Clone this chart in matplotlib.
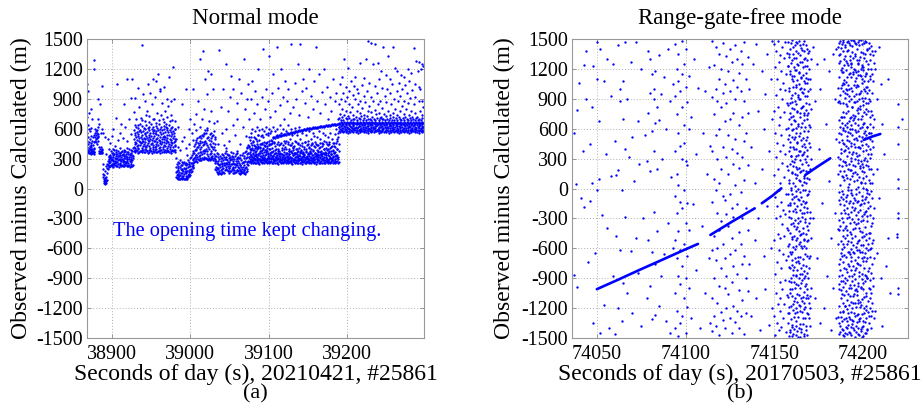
import matplotlib
matplotlib.use("Agg")
import matplotlib.pyplot as plt

# ---------------- Panel (a): Normal mode, O-C values read per second ----------------
normal_seg1 = [
    (38869, [360, 420, 480, 560, 720, 1050]), (38870, [370, 390, 450, 520, 640, 980]),
    (38871, [355, 380, 410, 470, 600, 760]), (38872, [360, 400, 430, 500, 580]),
    (38873, [350, 365, 440, 530, 800]), (38874, [360, 390, 420, 460, 610]),
    (38875, [355, 375, 400, 480, 700]), (38876, [360, 380, 440, 520]),
    (38877, [350, 370, 410, 1200, 1290]), (38878, [365, 400, 470, 540]),
    (38879, [480, 520, 560, 600]), (38880, [470, 500, 540, 580]),
    (38881, [450, 510, 560, 590]), (38882, [520, 550, 620, 700]),
    (38883, [480, 530, 900]), (38884, [360, 380, 420, 650]),
    (38885, [355, 370, 400, 850]), (38886, [360, 380, 420, 560]),
    (38887, [365, 400, 1030]), (38888, [360, 390, 600]),
]
normal_seg2 = [
    (38889, [250, 200, 150, 120, 560]), (38890, [100, 80, 60, 140]),
    (38891, [60, 50, 90, 110, 520]), (38892, [70, 55, 100, 180]),
    (38893, [60, 80, 120, 230, 350]), (38894, [90, 160, 210, 250]),
    (38895, [200, 240, 280, 500]), (38896, [220, 260, 300, 330]),
    (38897, [230, 280, 320, 400]),
]
normal_seg3 = [
    (38898, [222, 263, 304, 341, 452]), (38899, [234, 281, 318, 372]),
    (38900, [227, 249, 296, 356, 523]), (38901, [241, 272, 333, 394]),
    (38902, [219, 288, 312, 361, 598]), (38903, [232, 258, 344, 383]),
    (38904, [251, 279, 302, 424]), (38905, [221, 268, 331, 367, 704]),
    (38906, [236, 301, 348, 389]), (38907, [226, 262, 309, 343, 1050]),
    (38908, [243, 284, 329, 378, 483]), (38909, [220, 291, 322, 358]),
    (38910, [231, 257, 298, 352, 561]), (38911, [248, 283, 337, 406]),
    (38912, [223, 271, 314, 369, 648]), (38913, [237, 297, 332, 381]),
    (38914, [225, 264, 289, 347, 503]), (38915, [242, 276, 324, 391, 846]),
    (38916, [221, 303, 339, 364]), (38917, [233, 269, 311, 377, 617]),
    (38918, [252, 261, 327, 349]), (38919, [222, 292, 318, 402, 478]),
    (38920, [235, 279, 301, 371, 1100]), (38921, [228, 259, 342, 362]),
    (38922, [240, 298, 313, 393, 702]), (38923, [219, 273, 334, 351]),
    (38924, [230, 282, 319, 384, 547]), (38925, [249, 262, 299, 357, 903]),
    (38926, [224, 287, 338, 374, 1100]), (38927, [236, 302, 328, 410]),
]
normal_seg4 = [
    (38928, [372, 418, 497, 588, 763]), (38929, [391, 446, 533, 641]),
    (38930, [366, 402, 471, 552, 905]), (38931, [384, 457, 512, 618, 694]),
    (38932, [377, 428, 489, 566]), (38933, [359, 441, 526, 603, 1004]),
    (38934, [393, 411, 548, 637]), (38935, [368, 473, 502, 579, 822]),
    (38936, [381, 436, 468, 591, 652]), (38937, [374, 452, 519, 563, 711]),
    (38938, [389, 407, 494, 626, 1440]), (38939, [362, 463, 538, 684]),
    (38940, [386, 422, 481, 574, 948]), (38941, [371, 447, 509, 612]),
    (38942, [395, 431, 556, 598, 677]), (38943, [365, 468, 492, 547, 879]),
    (38944, [382, 414, 527, 633, 735]), (38945, [376, 439, 503, 569, 781]),
    (38946, [358, 455, 484, 606, 1052]), (38947, [390, 426, 541, 587, 668]),
    (38948, [369, 478, 515, 622, 724]), (38949, [387, 408, 496, 561, 962]),
    (38950, [373, 444, 531, 649]), (38951, [361, 461, 487, 594, 843]),
    (38952, [394, 419, 552, 577, 1103]), (38953, [379, 437, 506, 615, 701]),
    (38954, [366, 472, 523, 586, 697]), (38955, [385, 412, 479, 559, 917]),
    (38956, [370, 450, 544, 631, 1082]), (38957, [392, 425, 498, 573, 656]),
    (38958, [363, 466, 511, 608, 759]), (38959, [380, 433, 535, 582, 1148]),
    (38960, [375, 404, 486, 644, 688]), (38961, [389, 458, 520, 597, 983]),
    (38962, [360, 421, 476, 565, 1001]), (38963, [383, 448, 549, 619, 733]),
    (38964, [371, 470, 492, 589, 861]), (38965, [396, 415, 513, 557, 702]),
    (38966, [367, 439, 528, 627, 1019]), (38967, [378, 462, 501, 594, 671]),
    (38968, [386, 427, 517, 571, 778]), (38969, [364, 453, 483, 613, 649]),
    (38970, [391, 409, 540, 602, 899]), (38971, [373, 476, 507, 584, 715]),
    (38972, [380, 431, 470, 562, 832]), (38973, [368, 445, 532, 638, 1121]),
    (38974, [393, 418, 495, 591, 680]), (38975, [376, 464, 524, 606, 742]),
    (38976, [361, 437, 488, 568, 877]), (38977, [388, 452, 546, 617, 690]),
    (38978, [374, 413, 508, 579, 1219]), (38979, [382, 467, 529, 560, 901]),
    (38980, [369, 424, 499, 601, 679]), (38981, [390, 441, 478, 593]),
]
normal_seg5 = [
    (38982, [118, 163, 212, 304, 497]), (38983, [101, 131, 178, 243]),
    (38984, [94, 142, 203, 262, 418]), (38985, [112, 149, 187, 229, 622]),
    (38986, [99, 123, 168, 251]), (38987, [96, 139, 214, 283, 382]),
    (38988, [107, 158, 193, 238]), (38989, [102, 129, 182, 264, 476]),
    (38990, [93, 152, 198, 231, 850]), (38991, [109, 121, 171, 253]),
    (38992, [98, 141, 207, 268, 519]), (38993, [95, 162, 191, 242]),
    (38994, [104, 128, 179, 259, 403]), (38995, [100, 153, 202, 233, 1000]),
    (38996, [97, 119, 172, 248, 332]), (38997, [111, 138, 211, 281]),
    (38998, [121, 161, 188, 244, 601]), (38999, [131, 148, 222, 262, 447]),
    (39000, [139, 182, 228, 303, 702]), (39001, [162, 198, 252, 318]),
    (39002, [178, 223, 258, 334, 561]), (39003, [201, 238, 283, 352, 1000]),
    (39004, [212, 251, 298, 381, 482]),
]
normal_seg6 = [
    (39005, [261, 302, 358, 423, 652]), (39006, [272, 318, 382, 447]),
    (39007, [279, 332, 401, 468, 748]), (39008, [291, 339, 388, 483, 582]),
    (39009, [268, 312, 419, 502]), (39010, [299, 352, 412, 459, 878]),
    (39011, [282, 328, 441, 518]), (39012, [288, 362, 398, 481, 621]),
    (39013, [302, 341, 452, 528, 1300]), (39014, [281, 368, 421, 503]),
    (39015, [309, 349, 462, 538, 698]), (39016, [291, 379, 432, 522, 1380]),
    (39017, [298, 361, 471, 559]), (39018, [321, 388, 449, 542, 801]),
    (39019, [302, 372, 478, 583, 1100]), (39020, [309, 401, 461, 558]),
    (39021, [292, 378, 502, 591, 948]), (39022, [298, 351, 439, 602]),
    (39023, [281, 329, 421, 519, 1180]), (39024, [301, 311, 398, 482, 679]),
    (39025, [289, 342, 451, 548]), (39026, [318, 381, 429, 503, 1150]),
    (39027, [299, 359, 472, 561, 781]), (39028, [311, 331, 418, 522]),
    (39029, [288, 392, 458, 541, 1000]), (39030, [302, 348, 412, 578, 661]),
    (39031, [279, 322, 442, 498]),
]
normal_seg7 = [
    (39032, [198, 252, 301, 382, 521]), (39033, [181, 218, 272, 331]),
    (39034, [162, 208, 259, 352, 679]), (39035, [149, 191, 241, 318]),
    (39036, [158, 203, 279, 342, 451]), (39037, [151, 178, 232, 298, 1390]),
    (39038, [156, 212, 248, 331]), (39039, [148, 188, 271, 309, 822]),
    (39040, [161, 199, 242, 349, 558]), (39041, [152, 221, 258, 302]),
    (39042, [169, 208, 282, 338, 1000]), (39043, [158, 231, 251, 321, 432]),
    (39044, [182, 238, 291, 358]), (39045, [199, 252, 298, 381, 1250]),
    (39046, [211, 258, 312, 402, 601]), (39047, [188, 242, 288, 351]),
    (39048, [179, 221, 268, 332, 779]), (39049, [171, 209, 262, 308, 481]),
    (39050, [159, 202, 248, 341]), (39051, [172, 229, 281, 319, 921]),
    (39052, [178, 241, 299, 362, 1130]), (39053, [191, 249, 292, 328]),
    (39054, [181, 219, 271, 352, 641]), (39055, [158, 201, 258, 312, 1000]),
    (39056, [151, 189, 242, 298]), (39057, [162, 211, 249, 331, 539]),
    (39058, [168, 232, 279, 342]), (39059, [181, 238, 291, 359, 861]),
    (39060, [189, 252, 302, 378, 701]), (39061, [171, 218, 272, 321]),
    (39062, [159, 202, 251, 309, 1100]), (39063, [149, 181, 239, 332, 449]),
    (39064, [156, 188, 231, 302]), (39065, [151, 172, 219, 281, 962]),
    (39066, [161, 198, 252, 338]), (39067, [169, 212, 268, 352, 619]),
    (39068, [152, 189, 261, 329, 1300]), (39069, [158, 182, 238, 311]),
    (39070, [149, 201, 279, 362, 798]), (39071, [161, 219, 302, 378, 522]),
    (39072, [172, 241, 318, 402]), (39073, [198, 262, 342, 419, 901]),
    (39074, [231, 278, 358, 441, 1050]),
]
normal_seg8 = [
    (39075, [262, 318, 412, 520, 700]), (39076, [275, 350, 486, 400]),
    (39077, [255, 300, 398, 560, 900]), (39078, [268, 390, 521, 330]),
    (39079, [280, 320, 433, 600, 1080]), (39080, [258, 360, 472, 290]),
    (39081, [270, 310, 389, 520, 760]), (39082, [252, 340, 507, 410]),
    (39083, [285, 300, 426, 580, 980]), (39084, [260, 380, 493, 330]),
    (39085, [278, 320, 451, 620, 850]), (39086, [255, 350, 538, 300]),
    (39087, [266, 410, 417, 540, 1200]), (39088, [250, 300, 482, 590]),
    (39089, [272, 330, 402, 380, 700]), (39090, [261, 290, 529, 450]),
    (39091, [284, 360, 446, 600, 920]), (39092, [256, 320, 391, 540]),
    (39093, [268, 400, 515, 300, 1400]), (39094, [252, 310, 468, 580]),
    (39095, [276, 340, 423, 430, 800]), (39096, [263, 290, 547, 370]),
    (39097, [281, 390, 455, 620, 1000]), (39098, [257, 300, 409, 470]),
    (39099, [267, 350, 533, 560, 880]), (39100, [253, 320, 476, 400]),
    (39101, [274, 295, 438, 600, 1330]), (39102, [262, 340, 561, 450, 720]),
    (39103, [279, 310, 487, 580]), (39104, [256, 370, 452, 480, 960]),
    (39105, [265, 300, 516, 330]), (39106, [251, 330, 507, 620, 1150]),
    (39107, [271, 290, 520, 460]), (39108, [260, 360, 511, 580, 780]),
    (39109, [283, 320, 524, 400]), (39110, [254, 300, 516, 540, 1420]),
    (39111, [269, 340, 528, 600]), (39112, [250, 310, 520, 470, 1010]),
    (39113, [273, 380, 532, 350]), (39114, [261, 300, 525, 640, 840]),
    (39115, [282, 330, 536, 450]), (39116, [255, 290, 529, 560, 1200]),
    (39117, [266, 350, 541, 300]), (39118, [252, 320, 532, 600, 920]),
    (39119, [275, 300, 545, 480]), (39120, [263, 340, 536, 400, 700]),
    (39121, [280, 310, 549, 460, 1080]), (39122, [257, 360, 540, 580]),
    (39123, [268, 290, 552, 320, 880]), (39124, [251, 330, 545, 640]),
    (39125, [272, 300, 556, 470, 1000]), (39126, [262, 350, 549, 380]),
    (39127, [279, 320, 561, 500, 760]), (39128, [256, 290, 552, 440]),
    (39129, [265, 380, 565, 600, 1450]), (39130, [250, 310, 556, 540]),
    (39131, [274, 340, 569, 420, 820]), (39132, [263, 300, 560, 360]),
    (39133, [281, 360, 572, 610, 1060]), (39134, [255, 320, 565, 480]),
    (39135, [267, 290, 576, 400, 900]), (39136, [252, 350, 569, 540]),
    (39137, [276, 310, 581, 330, 1250]), (39138, [260, 380, 572, 460]),
    (39139, [283, 300, 585, 620, 740]), (39140, [257, 330, 577, 500, 1450]),
    (39141, [269, 290, 588, 380]), (39142, [250, 360, 579, 560, 980]),
    (39143, [273, 320, 591, 430]), (39144, [262, 300, 583, 350, 1100]),
    (39145, [280, 340, 595, 600]), (39146, [255, 290, 587, 470, 860]),
    (39147, [266, 370, 599, 400]), (39148, [252, 310, 590, 540, 1010]),
    (39149, [276, 330, 603, 320]), (39150, [263, 300, 595, 480, 720]),
    (39151, [281, 350, 606, 580]), (39152, [256, 290, 598, 420, 1200]),
    (39153, [268, 380, 609, 360]), (39154, [251, 320, 600, 500, 930]),
    (39155, [272, 300, 612, 450]), (39156, [262, 340, 603, 560, 800]),
    (39157, [279, 310, 614, 390]), (39158, [257, 290, 606, 530, 1080]),
    (39159, [265, 360, 617, 470]), (39160, [250, 330, 608, 330, 1420]),
    (39161, [274, 300, 619, 520]), (39162, [263, 350, 611, 440, 880]),
    (39163, [282, 320, 622, 380]), (39164, [255, 290, 613, 580, 1150]),
    (39165, [267, 370, 624, 420]), (39166, [252, 310, 616, 500, 760]),
    (39167, [276, 340, 627, 350]), (39168, [260, 300, 619, 460, 970]),
    (39169, [284, 360, 630, 560]), (39170, [257, 320, 621, 400, 1200]),
    (39171, [269, 290, 632, 480]), (39172, [251, 350, 624, 540, 850]),
    (39173, [273, 310, 635, 360]), (39174, [262, 300, 627, 450, 1020]),
    (39175, [280, 340, 637, 520]), (39176, [255, 290, 630, 400, 700]),
    (39177, [266, 380, 640, 470]), (39178, [252, 320, 632, 560, 920]),
    (39179, [276, 300, 642, 350]), (39180, [263, 350, 635, 420, 780]),
    (39181, [281, 310, 645, 500]), (39182, [256, 290, 637, 380, 1100]),
    (39183, [268, 360, 647, 460]), (39184, [251, 330, 640, 550, 880]),
    (39185, [272, 300, 649, 420]), (39186, [262, 340, 642, 600, 960]),
    (39187, [279, 400, 651, 500]), (39188, [257, 320, 644, 560, 700]),
    (39189, [265, 450, 652, 380, 620]),
]
normal_seg8_half = [
    (39075.5, [312, 428]), (39076.5, [296, 371]), (39077.5, [338, 452]), (39078.5, [289, 407]),
    (39079.5, [351, 463]), (39080.5, [303, 389]), (39081.5, [327, 441]), (39082.5, [292, 366]),
    (39083.5, [345, 418]), (39084.5, [309, 474]), (39085.5, [286, 397]), (39086.5, [334, 431]),
    (39087.5, [301, 359]), (39088.5, [356, 446]), (39089.5, [294, 412]), (39090.5, [322, 381]),
    (39091.5, [307, 458]), (39092.5, [341, 402]), (39093.5, [288, 369]), (39094.5, [318, 437]),
    (39095.5, [299, 391]), (39096.5, [347, 461]), (39097.5, [311, 378]), (39098.5, [285, 424]),
    (39099.5, [329, 353]), (39100.5, [304, 443]), (39101.5, [352, 396]), (39102.5, [291, 367]),
    (39103.5, [337, 449]), (39104.5, [315, 405]), (39105.5, [298, 372]), (39106.5, [343, 468]),
    (39107.5, [306, 388]), (39108.5, [287, 427]), (39109.5, [331, 359]), (39110.5, [309, 451]),
    (39111.5, [354, 399]), (39112.5, [293, 376]), (39113.5, [326, 433]), (39114.5, [302, 361]),
    (39115.5, [348, 456]), (39116.5, [289, 408]), (39117.5, [319, 384]), (39118.5, [336, 441]),
    (39119.5, [297, 367]), (39120.5, [313, 419]), (39121.5, [350, 472]), (39122.5, [286, 393]),
    (39123.5, [328, 356]), (39124.5, [305, 447]), (39125.5, [342, 401]), (39126.5, [294, 374]),
    (39127.5, [321, 438]), (39128.5, [308, 363]), (39129.5, [355, 452]), (39130.5, [290, 411]),
    (39131.5, [333, 386]), (39132.5, [300, 429]), (39133.5, [346, 358]), (39134.5, [317, 466]),
    (39135.5, [288, 398]), (39136.5, [324, 371]), (39137.5, [310, 444]), (39138.5, [339, 403]),
    (39139.5, [295, 365]), (39140.5, [353, 436]), (39141.5, [303, 389]), (39142.5, [287, 454]),
    (39143.5, [330, 362]), (39144.5, [314, 421]), (39145.5, [349, 395]), (39146.5, [292, 470]),
    (39147.5, [320, 378]), (39148.5, [306, 432]), (39149.5, [344, 357]), (39150.5, [299, 448]),
    (39151.5, [327, 406]), (39152.5, [311, 369]), (39153.5, [356, 439]), (39154.5, [289, 392]),
    (39155.5, [335, 461]), (39156.5, [302, 373]), (39157.5, [318, 427]), (39158.5, [347, 360]),
    (39159.5, [296, 414]), (39160.5, [323, 451]), (39161.5, [308, 385]), (39162.5, [340, 434]),
    (39163.5, [286, 367]), (39164.5, [332, 409]), (39165.5, [312, 457]), (39166.5, [351, 380]),
    (39167.5, [297, 426]), (39168.5, [325, 361]), (39169.5, [304, 443]), (39170.5, [343, 399]),
    (39171.5, [290, 371]), (39172.5, [316, 465]), (39173.5, [337, 410]), (39174.5, [301, 384]),
    (39175.5, [354, 437]), (39176.5, [293, 363]), (39177.5, [322, 448]), (39178.5, [309, 402]),
    (39179.5, [345, 376]), (39180.5, [288, 430]), (39181.5, [329, 458]), (39182.5, [314, 389]),
    (39183.5, [352, 423]), (39184.5, [298, 366]), (39185.5, [326, 452]), (39186.5, [307, 397]),
    (39187.5, [341, 475]), (39188.5, [295, 512]),
]
normal_seg9 = [
    (39190, [578, 621, 661, 703, 850]), (39191, [569, 598, 652, 748, 1050]),
    (39192, [591, 632, 668, 684, 900]), (39193, [574, 609, 657, 719, 1120]),
    (39194, [586, 642, 659, 802]), (39195, [563, 607, 648, 692, 960]),
    (39196, [581, 623, 664, 738, 1300]), (39197, [596, 613, 653, 881]),
    (39198, [568, 637, 661, 712, 1020]), (39199, [584, 601, 649, 777]),
    (39200, [576, 618, 667, 694, 920]), (39201, [558, 611, 654, 726, 1210]),
    (39202, [592, 641, 662, 848]), (39203, [579, 599, 651, 708, 980]),
    (39204, [571, 628, 663, 763]), (39205, [587, 616, 656, 688, 1080]),
    (39206, [573, 604, 658, 822]), (39207, [594, 626, 647, 701, 940]),
    (39208, [566, 633, 666, 742]), (39209, [582, 612, 654, 695, 1030]),
    (39210, [589, 602, 661, 897, 1120]), (39211, [568, 619, 651, 714]),
    (39212, [586, 643, 663, 781, 1000]), (39213, [574, 606, 656, 689]),
    (39214, [561, 614, 659, 852, 960]), (39215, [591, 631, 648, 706]),
    (39216, [579, 601, 667, 758, 1260]), (39217, [569, 624, 654, 693, 880]),
    (39218, [587, 611, 661, 723]), (39219, [576, 636, 649, 803, 1040]),
    (39220, [594, 621, 663, 687]), (39221, [564, 599, 657, 741, 930]),
    (39222, [581, 639, 659, 704, 1110]), (39223, [589, 617, 651, 872]),
    (39224, [571, 604, 666, 691, 1300]), (39225, [586, 629, 656, 724, 980]),
    (39226, [574, 612, 661, 782]), (39227, [559, 626, 648, 696, 1480]),
    (39228, [592, 601, 663, 829, 1060]), (39229, [578, 641, 654, 702]),
    (39230, [568, 619, 659, 763, 920]), (39231, [587, 606, 652, 687, 1460]),
    (39232, [576, 634, 666, 718]), (39233, [593, 614, 657, 882, 1250]),
    (39234, [563, 602, 661, 699]), (39235, [581, 631, 649, 791, 1030]),
    (39236, [588, 609, 663, 692, 1450]), (39237, [572, 624, 656, 743]),
    (39238, [584, 639, 658, 706, 960]), (39239, [577, 601, 651, 852, 1260]),
    (39240, [561, 621, 667, 688]), (39241, [589, 606, 654, 761, 1100]),
    (39242, [579, 633, 661, 703, 880]), (39243, [569, 616, 648, 721, 1180]),
    (39244, [586, 599, 663, 694]), (39245, [574, 631, 657, 812, 1010]),
    (39246, [594, 611, 659, 702, 1420]), (39247, [566, 638, 652, 751]),
    (39248, [581, 619, 666, 689, 930]), (39249, [591, 604, 654, 868, 1140]),
    (39250, [571, 636, 661, 723]), (39251, [584, 614, 649, 698, 1000]),
    (39252, [576, 602, 663, 779, 1330]), (39253, [559, 626, 656, 692]),
    (39254, [589, 641, 659, 739, 960]), (39255, [581, 609, 651, 704, 1100]),
    (39256, [569, 629, 664, 851]), (39257, [586, 606, 654, 688, 1050]),
    (39258, [574, 621, 661, 762, 1420]), (39259, [594, 634, 649, 719]),
    (39260, [566, 601, 663, 691, 900]), (39261, [579, 616, 656, 798, 1210]),
    (39262, [591, 639, 658, 703]), (39263, [571, 624, 652, 741, 980]),
    (39264, [584, 611, 667, 689, 1180]), (39265, [576, 599, 654, 879]),
    (39266, [561, 631, 661, 722, 1060]), (39267, [589, 619, 648, 698, 930]),
    (39268, [579, 604, 663, 781]), (39269, [569, 641, 656, 692, 1140]),
    (39270, [586, 614, 659, 832, 1000]), (39271, [574, 601, 651, 704]),
    (39272, [593, 636, 666, 749, 1120]), (39273, [564, 609, 654, 688, 880]),
    (39274, [581, 626, 661, 721, 1040]), (39275, [589, 602, 649, 801]),
    (39276, [571, 639, 663, 702, 960]), (39277, [584, 621, 656, 691, 1200]),
    (39278, [576, 606, 658, 861]), (39279, [559, 629, 652, 739, 1080]),
    (39280, [591, 616, 667, 703, 910]), (39281, [579, 599, 654, 689]),
    (39282, [569, 634, 661, 779, 1160]), (39283, [586, 611, 649, 722, 990]),
    (39284, [574, 624, 663, 698]), (39285, [594, 641, 656, 851, 1410]),
    (39286, [566, 601, 659, 692, 1050]), (39287, [581, 619, 651, 761, 920]),
    (39288, [589, 606, 666, 704, 1280]), (39289, [571, 636, 654, 718]),
    (39290, [584, 614, 661, 688, 1180]), (39291, [576, 602, 649, 879, 1020]),
    (39292, [561, 631, 663, 701, 1270]), (39293, [589, 639, 656, 778, 1000]),
    (39294, [579, 609, 658, 691, 1200]), (39295, [569, 626, 652, 742, 1250]),
    (39296, [586, 604, 667, 703, 880]), (39297, [574, 621, 654, 821, 1230]),
]
normal_segments = [normal_seg1, normal_seg2, normal_seg3, normal_seg4, normal_seg5,
                   normal_seg6, normal_seg7, normal_seg8, normal_seg8_half, normal_seg9]

# ---------------- Panel (b): Range-gate-free mode ----------------
rgf_background = [
    (74037, [560, -870]), (74038, [50]), (74039, [790, -990]), (74040, [1060]),
    (74041, [-100]), (74042, [380]), (74043, [1240, -190]), (74044, [1380, 900]),
    (74045, [-740]), (74046, [-130, 450]), (74047, [820, 60]), (74048, [-1350, 1230]),
    (74049, [-650]), (74050, [1470, 1100, -20]), (74051, [680, 100]), (74052, [-1450, 1400]),
    (74053, [-270]), (74054, [1080, -1170]), (74055, [350]), (74056, [1300, -400]),
    (74057, [-1400]), (74058, [930, 130]), (74059, [-880, 1250]), (74060, [480, -1460]),
    (74061, [140, -480]), (74062, [190, 1440, -1200]), (74063, [1000, 880, -620]),
    (74064, [-20, -1330]), (74065, [700, 1080, -950]), (74066, [400, -290, 1470]),
    (74067, [-1050, 900]), (74068, [320]), (74069, [-630, 1270]), (74070, [520, -1250]),
    (74071, [80]), (74072, [1470, -500]), (74073, [680, -850]), (74074, [250]),
    (74075, [1200, -1380]), (74076, [-300]), (74077, [540]), (74078, [-1100, 280]),
    (74086, [950, -880]), (74087, [300]), (74088, [-660, 1120]), (74089, [-1330, 600]),
    (74090, [-350, 1400]), (74091, [880, -1450]), (74092, [120]), (74093, [-600, 1050]),
    (74103, [-1300, 720]), (74104, [-160]), (74105, [1300]), (74106, [-820, 350]),
    (74107, [1010]), (74108, [-1400]), (74109, [-380]), (74110, [560]),
    (74111, [980, -1050]), (74112, [150]), (74113, [-700, 1220]), (74114, [-1350, 430]),
    (74136, [1000, -760]), (74137, [420, -1280]), (74138, [1250]), (74139, [-520, 60]),
    (74140, [1450, -1100]), (74141, [780, -300]), (74142, [-1420]), (74143, [1180, 200]),
    (74144, [-680, 600]), (74145, [950, -1010]), (74146, [-180, 1350]), (74147, [380, -1370]),
    (74148, [1100, -600]), (74149, [700, -1200, 1480]),
    (74172, [1420, -300]), (74173, [880, -1100]), (74174, [1250, -700]), (74175, [400]),
    (74176, [-1350, 1000]), (74177, [-150]), (74178, [-1200, 1300]), (74179, [650]),
    (74180, [-880]), (74181, [80, 1180]), (74182, [-500, -1420]), (74183, [1350, -1000]),
    (74184, [900, -250]), (74185, [1400, -1300, 500]),
    (74207, [1380, -1230, 1200]), (74208, [200, -650, 900]), (74209, [1420, -100]),
    (74210, [-900, 1050]), (74211, [650, -1380]), (74212, [350]), (74213, [-780]),
    (74214, [1100, -500]), (74215, [-1050]),
    (74219.5, [850, 620, 450, 100, 10, -250, -300, -1000, -1060]), (74219, [-460, -490]),
    (74222, [700]),
]
rgf_band_74080 = [
    (74079, [1380, 760, -520]), (74080, [1300, 960, 180, -980]),
    (74081, [1150, 580, -640, -1310]), (74082, [900, 1000, 380, -240]),
    (74083, [1180, 660, -1270, -760]), (74084, [820, 200, -430]),
    (74085, [1340, 690, -1180]),
]
rgf_band_74098 = [
    (74094, [1450, 930, 380, -80, -520, -1050, -1400]),
    (74095, [1200, 750, 150, -250, -700, -1230]),
    (74096, [1350, 1080, 560, 40, -430, -880, -1480]),
    (74097, [980, 430, -140, -620, -960, -1350]),
    (74098, [1480, 1150, 820, 300, -200, -780, -1280]),
    (74099, [1250, 640, 460, -20, -560, -1100]),
    (74100, [1400, 1020, 280, -350, -900, -1450]),
    (74101, [870, 240, -150, -680, -1190]),
    (74102, [1130, 600, -420, -1000]),
]
rgf_band_74125 = [
    (74115, [1480, 920, 380, -140, -620, -1100, -1430]),
    (74116, [1240, 750, 100, -480, -900, -1280]),
    (74117, [1420, 1000, 540, -20, -720, -1380]),
    (74118, [880, 300, -250, -600, -1150]),
    (74119, [1350, 1100, 600, 60, -420, -980, -1470]),
    (74120, [1200, 820, 200, -330, -800, -1240]),
    (74121, [1460, 960, 420, -80, -560, -1320]),
    (74122, [1050, 680, -120, -700, -1000, -1400]),
    (74123, [1330, 860, 320, -260, -880, -1200]),
    (74124, [1180, 540, 150, -380, -1060]),
    (74125, [1400, 980, 700, -60, -660, -1300]),
    (74126, [1270, 400, -200, -500, -940, -1450]),
    (74127, [1090, 760, 250, -290, -780, -1180]),
    (74128, [1440, 900, 500, 40, -620, -1340]),
    (74129, [1300, 1020, 360, -160, -860, -1230]),
    (74130, [1160, 640, 210, -440, -1020, -1400]),
    (74131, [1380, 980, -40, -560, -1280]),
    (74132, [1250, 720, 320, -300, -760, -1120]),
    (74133, [1470, 880, 480, 90, -680, -1460]),
    (74134, [1100, 560, -200, -900, -1250]),
    (74135, [1320, 760, 240, -420, -1030]),
]
rgf_band_74160 = [
    (74150, [1450, 780, 140, -520, -1280]), (74150.5, [1220, 560, -90, -860, -1470]),
    (74151, [1380, 940, 320, -300, -1050]), (74151.5, [1100, 460, -180, -740, -1350]),
    (74152, [1480, 820, 200, -460, -1160]), (74152.5, [1270, 640, -20, -620, -1420]),
    (74153, [1000, 380, -280, -940, -1230]), (74153.5, [1340, 720, 60, -500, -1100]),
    (74154, [1180, 540, -140, -800, -1390]), (74154.5, [1420, 900, 260, -360, -1010]),
    (74155, [1060, 440, -220, -660, -1300]), (74155.5, [1310, 770, 120, -480, -1160]),
    (74156, [1470, 990, 350, -260, -920]), (74156.5, [1150, 600, -60, -720, -1440]),
    (74157, [1360, 860, 230, -400, -1070]), (74157.5, [1230, 500, -170, -580, -1250]),
    (74158, [1470, 1230, 840, 610, 190, -60, -420, -680, -1090, -1350]),
    (74158.5, [1320, 980, 700, 380, 90, -290, -560, -930, -1190, -1480]),
    (74159, [1400, 1150, 760, 470, 250, -170, -450, -800, -1050, -1420]),
    (74159.5, [1260, 910, 650, 330, -20, -300, -660, -940, -1310]),
    (74160, [1490, 1100, 870, 520, 160, -110, -510, -720, -1080, -1390]),
    (74160.5, [1350, 1020, 730, 420, 60, -230, -590, -870, -1220, -1460]),
    (74161, [1220, 1130, 800, 500, 270, -150, -380, -790, -1130, -1290]),
    (74161.5, [1440, 960, 680, 300, 30, -320, -610, -1000, -1250]),
    (74162, [1380, 1190, 850, 560, 220, -80, -410, -740, -960, -1380]),
    (74162.5, [1310, 1040, 610, 400, 110, -240, -520, -880, -1200, -1470]),
    (74163, [1460, 1090, 770, 460, 140, -180, -500, -820, -1140, -1430]),
    (74163.5, [1240, 940, 630, 340, -10, -350, -690, -970, -1290]),
    (74164, [1480, 1170, 900, 530, 210, -120, -430, -750, -1070, -1400]),
    (74164.5, [1340, 1000, 720, 380, 80, -220, -540, -860, -1180, -1490]),
    (74165, [1410, 1120, 810, 490, 180, -160, -460, -800, -1100, -1440]),
    (74165.5, [1270, 970, 660, 340, 40, -290, -600, -920, -1240]),
    (74166, [1450, 1140, 830, 510, 190, -130, -450, -770, -1090, -1360]),
    (74166.5, [1300, 1000, 690, 370, 70, -250, -580, -900, -1210, -1480]),
    (74167, [1380, 1080, 760, 450, 130, -190, -510, -830, -1150]),
    (74167.5, [1230, 930, 620, 300, -20, -340, -660, -980, -1300]),
    (74168, [1440, 1110, 790, 490, 180, -140, -460, -780, -1100, -1420]),
    (74168.5, [1290, 1060, 740, 390, 110, -200, -530, -850]),
    (74169, [1360, 980, 580, 240, -60, -420, -900, -1260]),
    (74169.5, [1200, 850, 460, 100, -350, -700, -1150]),
    (74170, [1100, 620, 200, -240, -680, -1080, -1380]),
    (74170.5, [1300, 800, 300, -500, -1000]),
]
rgf_band_74160_extra = [
    (74158.25, [1350, 1010, 540, 60, -230, -790, -1250]),
    (74158.75, [1180, 860, 420, -150, -640, -1010, -1440]),
    (74159.25, [1460, 720, 330, 10, -360, -900, -1180]),
    (74159.75, [1290, 940, 590, 170, -490, -770, -1370]),
    (74160.25, [1130, 810, 280, -60, -640, -1010, -1480]),
    (74160.75, [1420, 1080, 600, 230, -350, -820, -1160]),
    (74161.25, [1310, 690, 400, -90, -480, -940, -1410]),
    (74161.75, [1190, 880, 520, 150, -210, -700, -1100]),
    (74162.25, [1470, 1020, 330, -30, -580, -870, -1330]),
    (74162.75, [1250, 780, 470, 200, -390, -1060, -1240]),
    (74163.25, [1360, 920, 650, -110, -300, -730, -1490]),
    (74163.75, [1160, 1050, 380, 90, -560, -900, -1170]),
    (74164.25, [1440, 760, 560, -40, -470, -1000, -1360]),
    (74164.75, [1270, 900, 290, 170, -330, -690, -1230]),
    (74165.25, [1110, 1010, 620, -90, -580, -950, -1410]),
    (74165.75, [1390, 820, 430, 250, -250, -860, -1130]),
    (74166.25, [1220, 960, 350, -20, -400, -710, -1300]),
    (74166.75, [1480, 740, 580, 110, -520, -1040, -1460]),
    (74167.25, [1310, 1060, 420, -150, -310, -880, -1190]),
    (74167.75, [1160, 860, 270, 60, -600, -960, -1380]),
    (74168.25, [1400, 700, 520, -70, -380, -1070, -1250]),
    (74168.75, [1230, 930, 330, -240, -680, -1010, -1470]),
    (74169.25, [1100, 760, 170, -520, -1100]),
    (74169.75, [1380, 640, -30, -800, -1300]),
    (74170.25, [1000, 420, -300, -1200]),
]
rgf_band_74195 = [
    (74186, [1420, 1010, 870, 320, 150, -410, -560, -1290]),
    (74186.5, [1260, 690, 470, -120, -880, -1010, -1460]),
    (74187, [1480, 1350, 860, 300, 40, -160, -710, -1240, -1380]),
    (74187.5, [1190, 1010, 550, 400, -250, -530, -930, -1100]),
    (74188, [1450, 1210, 720, 660, 130, -30, -610, -680, -1060, -1330]),
    (74188.5, [1380, 980, 770, 280, 120, -420, -560, -1150, -1470]),
    (74189, [1490, 1170, 1060, 590, 460, -60, -340, -930, -990, -1240, -1420]),
    (74189.5, [1300, 1050, 720, 450, 180, -170, -670, -800, -1310]),
    (74190, [1440, 1330, 960, 580, 390, 270, -250, -500, -900, -1180, -1450]),
    (74190.5, [1280, 1000, 850, 430, 240, -90, -380, -810, -1030, -1390]),
    (74191, [1470, 1120, 990, 660, 530, 110, -200, -420, -840, -1330, -1400]),
    (74191.5, [1390, 1240, 780, 570, 200, -20, -530, -640, -1060, -1250]),
    (74192, [1460, 1000, 930, 480, 370, 50, -290, -780, -880, -1170, -1440]),
    (74192.5, [1330, 1160, 710, 600, 100, -130, -440, -660, -1080, -1310]),
    (74193, [1490, 1250, 900, 720, 310, 190, -240, -610, -820, -1240, -1390]),
    (74193.5, [1260, 1120, 640, 460, 280, -50, -460, -690, -1000, -1470]),
    (74194, [1430, 980, 820, 540, 350, -70, -310, -500, -930, -1200, -1360]),
    (74194.5, [1310, 1170, 690, 370, 160, -150, -570, -780, -1150, -1330]),
    (74195, [1480, 1040, 870, 710, 500, 80, -220, -650, -860, -1060, -1420]),
    (74195.5, [1350, 1190, 730, 420, 230, -200, -400, -820, -1020, -1280]),
    (74196, [1450, 1110, 950, 570, 360, -60, -270, -590, -1010, -1190, -1440]),
    (74196.5, [1290, 1040, 880, 490, 90, -140, -550, -750, -1070, -1340]),
    (74197, [1470, 1260, 810, 640, 420, 20, -310, -530, -950, -1150, -1400]),
    (74197.5, [1180, 1030, 760, 580, 290, -130, -350, -760, -980, -1260]),
    (74198, [1440, 1290, 900, 530, 340, 120, -400, -620, -840, -1310, -1470]),
    (74198.5, [1320, 960, 800, 410, 210, -220, -430, -640, -1140, -1300]),
    (74199, [1490, 1130, 980, 700, 280, 60, -160, -570, -990, -1170, -1430]),
    (74199.5, [1240, 1100, 620, 440, 250, -80, -490, -700, -910, -1390]),
    (74200, [1360, 1220, 840, 650, 220, 10, -320, -730, -950, -1330, -1480]),
    (74200.5, [1460, 1080, 770, 560, 170, -260, -480, -690, -1090, -1250]),
    (74201, [1350, 980, 910, 510, 310, -110, -240, -650, -870, -1340]),
    (74201.5, [1470, 1020, 800, 390, 0, -230, -460, -880, -1180, -1450]),
    (74202, [1280, 1150, 750, 540, 130, -90, -520, -730, -1050, -1220]),
    (74202.5, [1400, 960, 620, 280, -50, -280, -700, -900, -1410]),
    (74203, [1200, 1080, 860, 430, 230, -200, -620, -830, -1240]),
    (74203.5, [1410, 900, 560, 200, -60, -500, -800, -1280]),
    (74204, [1350, 1100, 650, 400, -180, -450, -920, -1100]),
    (74204.5, [1200, 780, 350, -30, -600, -1050, -1400]),
    (74205, [1380, 960, 480, 60, -350, -760, -1150]),
    (74205.5, [1080, 620, 150, -520, -980]),
    (74206, [1260, 700, -200, -700, -1300]),
]
rgf_band_74195_extra = [
    (74186.25, [1340, 880, 560, -40, -320, -760, -1180]),
    (74186.75, [1460, 1120, 240, -420, -960, -1350]),
    (74187.25, [1280, 940, 620, 180, -380, -820, -1440]),
    (74187.75, [1410, 720, 360, -90, -650, -1020, -1290]),
    (74188.25, [1170, 1040, 490, 230, -300, -870, -1410]),
    (74188.75, [1470, 860, 610, -110, -480, -740, -1230]),
    (74189.25, [1240, 1090, 380, 90, -220, -590, -1070, -1480]),
    (74189.75, [1420, 910, 640, 270, -400, -950, -1180]),
    (74190.25, [1190, 1070, 760, 140, -130, -690, -1300]),
    (74190.75, [1380, 950, 490, 330, -300, -560, -1120, -1460]),
    (74191.25, [1260, 830, 620, -70, -470, -920, -1210]),
    (74191.75, [1480, 1040, 410, 20, -260, -760, -1370]),
    (74192.25, [1150, 880, 680, 250, -150, -640, -1000, -1290]),
    (74192.75, [1440, 1290, 560, 190, -350, -970, -1450]),
    (74193.25, [1220, 1010, 430, -20, -540, -730, -1140]),
    (74193.75, [1370, 820, 600, 130, -190, -880, -1320]),
    (74194.25, [1490, 1150, 740, 240, -410, -640, -1080, -1400]),
    (74194.75, [1200, 930, 450, -100, -340, -970, -1250]),
    (74195.25, [1330, 1080, 590, 300, -120, -720, -1490]),
    (74195.75, [1460, 870, 660, 170, -480, -910, -1150]),
    (74196.25, [1170, 1020, 510, -10, -360, -800, -1380]),
    (74196.75, [1400, 790, 330, 150, -620, -1030, -1270]),
    (74197.25, [1250, 1140, 700, 260, -240, -690, -1120, -1460]),
    (74197.75, [1490, 950, 420, -40, -520, -880, -1330]),
    (74198.25, [1140, 830, 610, 230, -170, -770, -1190]),
    (74198.75, [1370, 1200, 480, 70, -330, -1000, -1410]),
    (74199.25, [1220, 910, 730, 180, -440, -640, -1260]),
    (74199.75, [1450, 1060, 520, -120, -280, -860, -1110, -1490]),
    (74200.25, [1190, 880, 380, 110, -570, -1010, -1380]),
    (74200.75, [1310, 1000, 660, 290, -150, -800, -1200]),
    (74201.25, [1480, 1130, 580, 60, -390, -930, -1450]),
    (74201.75, [1160, 860, 450, 240, -600, -1080, -1300]),
    (74202.25, [1390, 1020, 620, -20, -330, -900, -1420]),
    (74202.75, [1250, 780, 350, -140, -560, -1130]),
    (74203.25, [1460, 990, 560, 90, -450, -1000, -1350]),
    (74203.75, [1130, 720, 310, -270, -690, -1200]),
    (74204.25, [1290, 880, 500, 60, -610, -1010]),
    (74204.75, [1430, 560, 200, -380, -850, -1280]),
    (74205.25, [1150, 740, -100, -550, -1230]),
    (74205.75, [1340, 420, -300, -900]),
]
rgf_bands = [rgf_background, rgf_band_74080, rgf_band_74098, rgf_band_74125,
             rgf_band_74160, rgf_band_74160_extra, rgf_band_74195, rgf_band_74195_extra]

# satellite track (visible pieces of the O-C curve)
rgf_track_t = [[74050, 74062, 74074, 74086, 74098, 74107],
               [74114, 74126, 74139],
               [74143, 74149, 74154],
               [74167.5, 74174, 74181.6],
               [74200.4, 74205, 74209.8]]
rgf_track_omc = [[-1010, -915, -817, -722, -626, -556],
                 [-466, -335, -199],
                 [-148, -72, 2],
                 [136, 215, 303],
                 [487, 520, 547]]

y_ticks = [-1500, -1200, -900, -600, -300, 0, 300, 600, 900, 1200, 1500]
normal_xticks = [38900, 39000, 39100, 39200]
rgf_xticks = [74050, 74100, 74150, 74200]


def flatten(segments):
    xs, ys = [], []
    for seg in segments:
        for t, vals in seg:
            for v in vals:
                xs.append(t)
                ys.append(v)
    return xs, ys


plt.rcParams["font.family"] = ["Liberation Serif", "DejaVu Serif"]
plt.rcParams["axes.unicode_minus"] = False
BLUE = "#0000ff"

fig = plt.figure(figsize=(9.22, 4.07), dpi=100)
ax1 = fig.add_axes([0.0944, 0.1695, 0.3655, 0.7347])
ax2 = fig.add_axes([0.6204, 0.1695, 0.3644, 0.7347])


def style(ax, xticks, xlim, title, xlabel):
    ax.set_xlim(*xlim)
    ax.set_ylim(-1500, 1500)
    ax.set_yticks(y_ticks)
    ax.set_xticks(xticks)
    ax.tick_params(direction="in", length=3, width=0.6, color="#888888",
                   labelsize=14.4, pad=3, top=True, right=True)
    ax.tick_params(axis="x", pad=5)
    ax.grid(True, linestyle=(0, (1, 2)), color="#b0b0b0", linewidth=0.7)
    ax.set_axisbelow(True)
    for s in ax.spines.values():
        s.set_color("#999999")
        s.set_linewidth(0.8)
    ax.set_title(title, fontsize=16.5, pad=11)
    ax.set_xlabel(xlabel, fontsize=17, labelpad=0)
    ax.set_ylabel("Observed minus Calculated (m)", fontsize=17)


MS = 1.7

# Panel (a)
xa, ya = flatten(normal_segments)
ax1.plot(xa, ya, ls="none", marker="o", ms=MS, mew=0, color=BLUE)
style(ax1, normal_xticks, (38868.5, 39298), "Normal mode",
      "Seconds of day (s), 20210421, #25861")
ax1.yaxis.set_label_coords(-0.163, 0.5)
ax1.text(38901.7, -436, "The opening time kept changing.", color=BLUE,
         fontsize=14.7, ha="left", va="center")

# Panel (b)
xb, yb = flatten(rgf_bands)
ax2.plot(xb, yb, ls="none", marker="o", ms=MS, mew=0, color=BLUE)
for tt, yy in zip(rgf_track_t, rgf_track_omc):
    ax2.plot(tt, yy, color=BLUE, lw=1.9, solid_capstyle="round")
style(ax2, rgf_xticks, (74036, 74225.4), "Range-gate-free mode",
      "Seconds of day (s), 20170503, #25861")
ax2.yaxis.set_label_coords(-0.170, 0.5)

fig.text(255.5 / 922, 1 - 394 / 407, "(a)", ha="center", va="center", fontsize=16)
fig.text(740 / 922, 1 - 394 / 407, "(b)", ha="center", va="center", fontsize=16)

fig.savefig("out.png", dpi=100)
